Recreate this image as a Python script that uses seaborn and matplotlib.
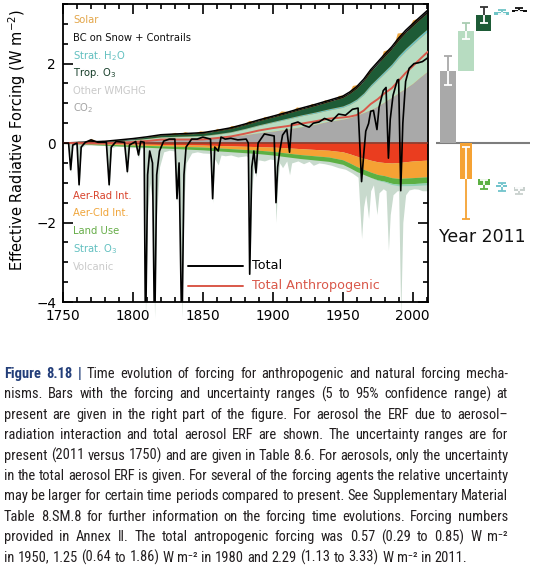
import numpy as np
import pandas as pd
import seaborn as sns
import matplotlib
matplotlib.use("Agg")
import matplotlib.pyplot as plt
from matplotlib import font_manager as fm
from matplotlib.lines import Line2D
from matplotlib.ticker import MultipleLocator

# ---------------- data ----------------
years_a = [1750, 1760, 1770, 1780, 1790, 1800, 1810, 1820, 1830, 1840, 1850, 1860, 1870, 1880,
           1890, 1900, 1910, 1920, 1930, 1940, 1950, 1955, 1960, 1965, 1970, 1975, 1980, 1985,
           1990, 1995, 2000, 2005, 2010, 2011]
co2 = [0.00, 0.01, 0.02, 0.03, 0.05, 0.07, 0.08, 0.09, 0.10, 0.11, 0.12, 0.14, 0.17, 0.21,
       0.26, 0.30, 0.35, 0.41, 0.47, 0.55, 0.60, 0.64, 0.70, 0.77, 0.84, 0.93, 1.04, 1.15,
       1.27, 1.38, 1.50, 1.65, 1.79, 1.82]
other_wmghg = [0.00, 0.00, 0.00, 0.00, 0.005, 0.01, 0.03, 0.06, 0.06, 0.06, 0.06, 0.08, 0.10, 0.14,
               0.18, 0.22, 0.25, 0.27, 0.28, 0.28, 0.30, 0.33, 0.37, 0.45, 0.58, 0.66, 0.72, 0.78,
               0.87, 0.94, 0.98, 0.99, 1.00, 1.00]
strat_h2o = [0.00, 0.00, 0.00, 0.00, 0.003, 0.005, 0.007, 0.008, 0.01, 0.01, 0.012, 0.014, 0.016, 0.018,
             0.02, 0.022, 0.025, 0.027, 0.03, 0.032, 0.035, 0.038, 0.04, 0.045, 0.05, 0.053, 0.056, 0.06,
             0.063, 0.065, 0.067, 0.068, 0.07, 0.07]
trop_o3 = [0.00, 0.003, 0.006, 0.01, 0.015, 0.02, 0.03, 0.04, 0.045, 0.05, 0.055, 0.07, 0.08, 0.09,
           0.10, 0.11, 0.12, 0.14, 0.16, 0.18, 0.21, 0.24, 0.27, 0.30, 0.33, 0.35, 0.37, 0.38,
           0.39, 0.40, 0.40, 0.40, 0.40, 0.40]
bc_contrails = [0.00, 0.002, 0.004, 0.005, 0.006, 0.008, 0.01, 0.012, 0.013, 0.014, 0.015, 0.016, 0.018, 0.02,
                0.022, 0.024, 0.026, 0.028, 0.03, 0.032, 0.035, 0.037, 0.04, 0.042, 0.045, 0.047, 0.05, 0.05,
                0.05, 0.052, 0.055, 0.055, 0.06, 0.06]
aer_rad = [0.00, -0.005, -0.01, -0.015, -0.02, -0.025, -0.03, -0.035, -0.04, -0.045, -0.05, -0.06, -0.07, -0.08,
           -0.09, -0.10, -0.12, -0.14, -0.16, -0.18, -0.22, -0.27, -0.33, -0.38, -0.43, -0.47, -0.49, -0.50,
           -0.49, -0.47, -0.45, -0.44, -0.43, -0.43]
aer_cld = [0.00, -0.005, -0.01, -0.015, -0.02, -0.025, -0.03, -0.035, -0.04, -0.045, -0.05, -0.06, -0.07, -0.08,
           -0.09, -0.11, -0.13, -0.15, -0.16, -0.17, -0.20, -0.23, -0.26, -0.28, -0.30, -0.32, -0.33, -0.37,
           -0.40, -0.41, -0.42, -0.42, -0.42, -0.42]
land_use = [0.00, -0.008, -0.016, -0.024, -0.032, -0.04, -0.046, -0.052, -0.058, -0.064, -0.07, -0.074, -0.078, -0.082,
            -0.086, -0.09, -0.096, -0.10, -0.105, -0.11, -0.115, -0.12, -0.125, -0.13, -0.133, -0.136, -0.14, -0.142,
            -0.145, -0.147, -0.15, -0.15, -0.15, -0.15]
strat_o3 = [0.00, 0.00, 0.00, 0.00, 0.00, 0.00, 0.00, 0.00, 0.00, 0.00, 0.00, 0.00, 0.00, 0.00,
            0.00, 0.00, 0.00, 0.00, 0.00, 0.00, 0.00, 0.00, 0.00, 0.00, 0.00, -0.01, -0.02, -0.03,
            -0.04, -0.045, -0.05, -0.05, -0.05, -0.05]

# upper edge of the orange solar band
solar_years = [1750, 1755, 1761, 1766, 1770, 1775, 1778, 1784, 1788, 1798, 1805, 1810, 1816, 1823, 1830,
               1833, 1837, 1843, 1848, 1856, 1860, 1867, 1870, 1878, 1883, 1889, 1894, 1901, 1906, 1913,
               1917, 1923, 1928, 1933, 1937, 1944, 1947, 1954, 1957, 1964, 1968, 1976, 1979, 1986, 1989,
               1996, 2000, 2008, 2011]
solar_top = [0.0, 0.0, 0.05, 0.01, 0.12, 0.02, 0.07, 0.03, 0.08, 0.06, 0.12, 0.14, 0.2, 0.2, 0.27,
             0.22, 0.29, 0.23, 0.31, 0.27, 0.37, 0.35, 0.44, 0.45, 0.57, 0.55, 0.67, 0.67, 0.81, 0.79,
             0.91, 0.88, 1.0, 0.96, 1.09, 1.07, 1.2, 1.22, 1.45, 1.5, 1.8, 1.95, 2.32, 2.4, 2.77,
             2.8, 3.1, 3.2, 3.37]

# total forcing line and lower edge of the volcanic band
volc_years = [1750, 1754, 1755.5, 1757, 1760, 1761.5, 1763, 1766, 1770, 1775,
              1781, 1783, 1784.5, 1788, 1794, 1796, 1797.5, 1802, 1804, 1805.5,
              1808, 1809, 1810.5, 1812, 1814, 1815.5, 1817, 1819, 1822, 1826,
              1830, 1831.5, 1833, 1835, 1836.5, 1838, 1842, 1846, 1850, 1855.5,
              1857, 1858.5, 1861, 1863, 1866, 1870, 1875, 1881, 1882.5, 1883.5,
              1885, 1886.5, 1888, 1889.5, 1894, 1898, 1901, 1902.3, 1903.5, 1905,
              1907, 1910, 1912, 1913.5, 1918, 1922, 1926, 1929, 1933, 1937,
              1942, 1947, 1952, 1957, 1961, 1963.5, 1965, 1966.5, 1968.5, 1970,
              1972, 1974.5, 1976, 1979, 1981, 1982.7, 1984, 1986, 1989, 1990,
              1991.5, 1993, 1995, 1997.5, 2001, 2004, 2007, 2011]
total_forcing = [0.00, 0.00, -0.67, -0.05, 0.00, -1.05, -0.10, 0.02, 0.08, 0.02,
                 0.02, -1.05, -0.10, 0.04, 0.02, -0.72, -0.05, 0.04, -0.30, 0.04,
                 0.02, -5.0, -0.80, -0.20, -0.50, -5.0, -0.80, -0.20, 0.05, 0.10,
                 0.10, -1.40, -0.50, -5.0, -0.80, -0.10, 0.10, 0.10, 0.15, 0.10,
                 -1.40, -0.10, -0.20, 0.15, 0.10, 0.12, 0.08, 0.10, 0.00, -3.30,
                 -0.60, -0.20, -0.75, 0.00, 0.23, 0.20, 0.18, -1.50, -0.60, -0.20,
                 0.20, 0.35, -0.23, 0.48, 0.53, 0.45, 0.40, 0.50, 0.53, 0.62,
                 0.55, 0.73, 0.70, 0.85, 0.88, -0.97, -0.30, 0.30, 0.49, 0.80,
                 0.82, 0.34, 0.90, 1.32, 1.40, -0.38, 0.60, 1.20, 1.58, 1.60,
                 -1.20, 0.50, 1.55, 1.88, 2.00, 2.02, 2.05, 2.15]
volc_lower = [-0.02, -0.03, -0.75, -0.06, -0.04, -1.15, -0.12, -0.05, -0.05, -0.06,
              -0.06, -1.15, -0.12, -0.08, -0.09, -0.80, -0.12, -0.11, -0.38, -0.12,
              -0.13, -4.4, -1.80, -1.00, -1.50, -4.4, -1.80, -0.60, -0.22, -0.18,
              -0.20, -1.50, -0.80, -4.4, -1.50, -0.50, -0.25, -0.22, -0.25, -0.26,
              -1.50, -0.40, -0.55, -0.30, -0.32, -0.30, -0.35, -0.32, -0.36, -3.40,
              -1.20, -0.60, -0.85, -0.42, -0.45, -0.40, -0.42, -2.00, -1.00, -0.50,
              -0.62, -0.45, -0.80, -0.50, -0.45, -0.52, -0.46, -0.56, -0.50, -0.52,
              -0.56, -0.62, -0.66, -0.76, -0.86, -2.40, -1.60, -1.30, -1.90, -1.20,
              -1.05, -1.80, -1.25, -1.15, -1.20, -2.70, -1.80, -1.30, -1.20, -1.20,
              -4.35, -2.00, -1.30, -1.18, -1.15, -1.16, -1.20, -1.20]

# 2011 bars (cumulative extents)
pos_bar_bottom = [0.00, 1.82, 2.83, 3.23, 3.30]
pos_bar_top = [1.82, 2.83, 3.23, 3.30, 3.36]
pos_err_lo = [1.46, 2.62, 3.03, 3.24, 3.31]
pos_err_hi = [2.18, 3.03, 3.43, 3.34, 3.40]
neg_bar_top = [0.00, -0.90, -1.05, -1.10]
neg_bar_bottom = [-0.90, -1.05, -1.10, -1.21]
neg_err_hi = [-0.10, -0.93, -1.00, -1.13]
neg_err_lo = [-1.90, -1.15, -1.20, -1.28]

upper_labels = ["Solar", "BC on Snow + Contrails", "Strat. H$_2$O", "Trop. O$_3$", "Other WMGHG", "CO$_2$"]
lower_labels = ["Aer-Rad Int.", "Aer-Cld Int.", "Land Use", "Strat. O$_3$", "Volcanic"]

caption_lines = [
    "Figure 8.18 | Time evolution of forcing for anthropogenic and natural forcing mecha-",
    "nisms. Bars with the forcing and uncertainty ranges (5 to 95% confidence range) at",
    "present are given in the right part of the figure. For aerosol the ERF due to aerosol–",
    "radiation interaction and total aerosol ERF are shown. The uncertainty ranges are for",
    "present (2011 versus 1750) and are given in Table 8.6. For aerosols, only the uncertainty",
    "in the total aerosol ERF is given. For several of the forcing agents the relative uncertainty",
    "may be larger for certain time periods compared to present. See Supplementary Material",
    "Table 8.SM.8 for further information on the forcing time evolutions. Forcing numbers",
    "provided in Annex II. The total antropogenic forcing was 0.57 (0.29 to 0.85) W m⁻²",
    "in 1950, 1.25 (0.64 to 1.86) W m⁻² in 1980 and 2.29 (1.13 to 3.33) W m⁻² in 2011.",
]

# ---------------- styles ----------------
C_CO2 = "#a9a9a9"
C_WMGHG = "#b7dcc1"
C_H2O = "#6fc4c6"
C_O3 = "#1d5b36"
C_BC = "#111111"
C_SOLAR = "#eca641"
C_AERRAD = "#ea3d1f"
C_AERCLD = "#f5a234"
C_LAND = "#5cb043"
C_SO3 = "#8fd2b4"
C_VOLC = "#c8dacd"
C_ANTH = "#d9584a"

sns.set_theme(style="ticks")
plt.rcParams["font.family"] = ["DejaVu Sans"]
plt.rcParams["mathtext.fontset"] = "dejavusans"

W, H = 540, 568
fig = plt.figure(figsize=(W / 100, H / 100), dpi=100)
fig.patch.set_facecolor("white")


def fx(px):
    return px / W


def fy(py):
    return 1 - py / H


ax = fig.add_axes([fx(63), fy(302), (428 - 63) / W, 298 / H])
ax2 = fig.add_axes([fx(436), fy(302), 94 / W, 298 / H])
ax.set_facecolor("white")

ya = np.array(years_a, dtype=float)

# volcanic band (drawn first, under everything negative)
ax.fill_between(volc_years, 0, volc_lower, color=C_VOLC, lw=0, zorder=1, clip_on=False)
# solar band (under the positive stack, visible above it)
ax.fill_between(solar_years, 0, solar_top, color=C_SOLAR, lw=0, zorder=1)

base = np.zeros_like(ya)
for vals, col in [(co2, C_CO2), (other_wmghg, C_WMGHG), (strat_h2o, C_H2O),
                  (trop_o3, C_O3), (bc_contrails, C_BC)]:
    top = base + np.array(vals)
    ax.fill_between(ya, base, top, color=col, lw=0, zorder=2)
    base = top
pos_sum = base
ax.plot(ya, pos_sum, color="black", lw=1.1, zorder=3)

base = np.zeros_like(ya)
for vals, col in [(aer_rad, C_AERRAD), (aer_cld, C_AERCLD), (land_use, C_LAND), (strat_o3, C_SO3)]:
    bot = base + np.array(vals)
    ax.fill_between(ya, bot, base, color=col, lw=0, zorder=2)
    base = bot
neg_sum = base

anthro = pos_sum + neg_sum
ax.axhline(0, color="#8a2a1a", lw=1.1, zorder=3)
sns.lineplot(x=ya, y=anthro, color=C_ANTH, lw=1.4, ax=ax, zorder=4)
sns.lineplot(x=np.array(volc_years), y=np.array(total_forcing), color="black", lw=1.2,
             ax=ax, zorder=5, sort=False, estimator=None)

ax.set_xlim(1750, 2011)
ax.set_ylim(-4, 3.5)
ax.xaxis.set_major_locator(MultipleLocator(50))
ax.xaxis.set_minor_locator(MultipleLocator(10))
ax.yaxis.set_major_locator(MultipleLocator(2))
ax.yaxis.set_minor_locator(MultipleLocator(0.5))
ax.tick_params(which="both", direction="in", top=True, right=True, width=1.2, color="black",
               labelsize=9.8, labelcolor="black")
ax.tick_params(which="major", length=7, pad=5)
ax.tick_params(which="minor", length=3.5)
for s in ax.spines.values():
    s.set_color("black")
    s.set_linewidth(1.3)
ax.set_xlabel("")
ax.set_ylabel("Effective Radiative Forcing (W m$^{-2}$)", fontsize=10.5, color="black")
ax.yaxis.set_label_coords((28 - 63) / 365, 0.545)

# text labels inside the chart
up_cols = ["#e3a64a", "#111111", "#62c0c0", "#173f2a", "#c9c9c9", "#a3a3a3"]
up_y = [20, 37.7, 56, 73.5, 91, 108.5]
for s, c, yy in zip(upper_labels, up_cols, up_y):
    fig.text(fx(73), fy(yy), s, color=c, fontsize=7.2, va="center", ha="left")
lo_cols = ["#d8432c", "#f0a53a", "#66ad48", "#62c0c0", "#cacaca"]
lo_y = [196, 213.5, 231.5, 249.5, 267]
for s, c, yy in zip(lower_labels, lo_cols, lo_y):
    fig.text(fx(73), fy(yy), s, color=c, fontsize=7.2, va="center", ha="left")

fig.add_artist(Line2D([fx(188), fx(243)], [fy(266), fy(266)], color="black", lw=1.4))
fig.add_artist(Line2D([fx(188), fx(243)], [fy(285.5), fy(285.5)], color=C_ANTH, lw=1.4))
fig.text(fx(252), fy(265.5), "Total", color="black", fontsize=9.2, va="center", ha="left")
fig.text(fx(252), fy(285), "Total Anthropogenic", color=C_ANTH, fontsize=9.2, va="center", ha="left")

# ---------------- right panel: 2011 bars ----------------
ax2.set_xlim(-0.67, 4.59)
ax2.set_ylim(-4, 3.5)
ax2.axis("off")
ax2.axhline(0, color="#7d7d7d", lw=1.5, zorder=1)


def draw_bar(axx, x, b0, b1, lo, hi, color, width, outcol=None):
    lo_b, hi_b = min(b0, b1), max(b0, b1)
    axx.bar([x], [hi_b - lo_b], bottom=[lo_b], width=width, color=color, lw=0, zorder=2)
    oc = color if outcol is None else outcol
    # whisker outside the bar in bar colour, inside in white
    axx.vlines(x, lo, hi, color=oc, lw=1.3, zorder=3)
    ilo, ihi = max(lo, lo_b), min(hi, hi_b)
    if ihi > ilo:
        axx.vlines(x, ilo, ihi, color="white", lw=1.3, zorder=4)
    for v in (lo, hi):
        inside = lo_b <= v <= hi_b
        axx.plot([x], [v], marker="_", ms=6, mew=1.3, color="white" if inside else oc, zorder=5)


pos_cols = [C_CO2, C_WMGHG, C_O3, C_H2O, C_BC]
pos_out = ["#a9a9a9", "#a9cdb2", "#333333", C_H2O, "#111111"]
for i in range(5):
    draw_bar(ax2, i, pos_bar_bottom[i], pos_bar_top[i], pos_err_lo[i], pos_err_hi[i],
             pos_cols[i], 0.86, pos_out[i])
neg_cols = [C_AERCLD, C_LAND, "#72c4cc", "#c9d1ce"]
for j in range(4):
    draw_bar(ax2, j + 1, neg_bar_top[j], neg_bar_bottom[j], neg_err_lo[j], neg_err_hi[j],
             neg_cols[j], 0.66)

fig.text(fx(482), fy(237), "Year 2011", fontsize=12.5, color="#111111", ha="center", va="center")

# ---------------- caption (justified) ----------------
avail = {f.name for f in fm.fontManager.ttflist}
cap_font = "DejaVu Sans"
for cand in ["Liberation Sans Narrow", "Roboto Condensed", "Open Sans Condensed", "Noto Sans",
             "Liberation Sans", "Open Sans"]:
    if cand in avail:
        cap_font = cand
        break
fam = [cap_font, "DejaVu Sans"]
renderer = fig.canvas.get_renderer()


def wwidth(word, size, bold):
    t = fig.text(0, 0, word, fontsize=size, family=fam, weight="bold" if bold else "normal")
    w = t.get_window_extent(renderer).width
    t.remove()
    return w


line_words = []
for li, line in enumerate(caption_lines):
    words = line.split(" ")
    styled = []
    for wi, w in enumerate(words):
        styled.append((w, li == 0 and wi < 3))
    line_words.append(styled)

size = 10.0
left_px, right_px = 4.0, 508.0
target = right_px - left_px
space = wwidth("x x", size, False) - wwidth("xx", size, False)
nat = []
for styled in line_words:
    ws = sum(wwidth(w, size, b) for w, b in styled)
    nat.append(ws + space * (len(styled) - 1))
mx = max(nat[:-1])
size = size * (target - 3) / mx
space = wwidth("x x", size, False) - wwidth("xx", size, False)

baseline0, dy = 378.0, 20.4
for li, styled in enumerate(line_words):
    widths = [wwidth(w, size, b) for w, b in styled]
    n = len(styled)
    if li < len(line_words) - 1 and n > 1:
        gap = (target - sum(widths)) / (n - 1)
    else:
        gap = space
    x = left_px
    yb = baseline0 + dy * li
    for (w, b), wd in zip(styled, widths):
        fig.text(fx(x), fy(yb), w, fontsize=size, family=fam,
                 weight="bold" if b else "normal",
                 color="#233e79" if b else "#231f20", va="baseline", ha="left")
        x += wd + gap

fig.savefig("out.png", dpi=100, facecolor="white")
